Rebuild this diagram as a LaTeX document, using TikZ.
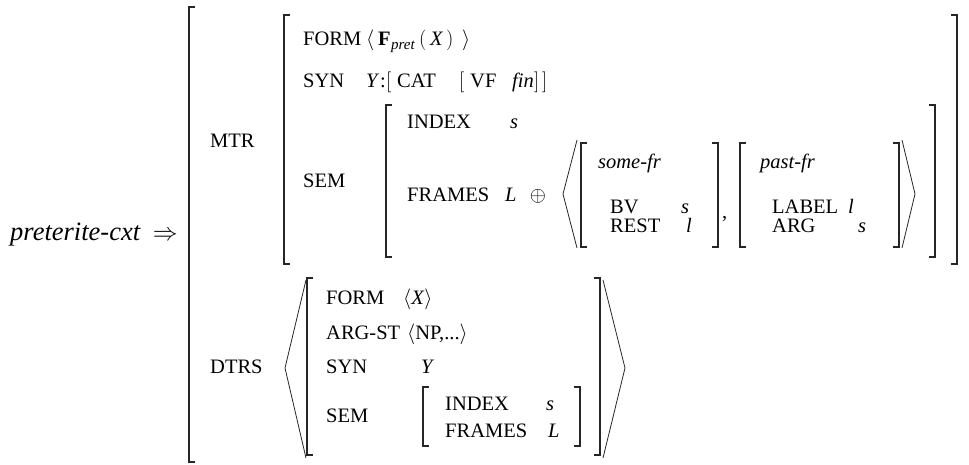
\documentclass[tikz,border=0pt]{standalone}
\usepackage{fontspec}
\setmainfont{Liberation Serif}
\newcommand{\avmfont}{\fontsize{20.5pt}{24pt}\selectfont}
\begin{document}
\begin{tikzpicture}[x=1pt,y=-1pt,
  t/.style={inner sep=0pt, anchor=base west, font=\avmfont},
  tc/.style={inner sep=0pt, anchor=base, font=\avmfont},
  sub/.style={inner sep=0pt, anchor=base west, font=\fontsize{15pt}{17pt}\selectfont\itshape},
  brk/.style={line width=1.1pt, draw=black!85, line cap=butt},
  ang/.style={line width=0.8pt, draw=black!85}]
\useasboundingbox (0,0) rectangle (969,464);

% left side
\node[t, font=\fontsize{26.5pt}{30pt}\selectfont] (cxt) at (10,240) {\textit{preterite-cxt}};
\node[t, anchor=base east, font=\fontsize{24pt}{28pt}\selectfont] (arr) at (178,240) {$\Rightarrow$};

% outer bracket
\draw[brk] (195,7) -| (189,462) -- (195,462);

% MTR
\node[t] (mtr) at (210,147) {MTR};
\draw[brk] (290,15) -| (284,264) -- (290,264);
\draw[brk] (951,15) -| (957,264) -- (951,264);

% FORM row
\node[t] (form1) at (303,45) {FORM};
\node[t] (fl) at (366,45) {$\big\langle$};
\node[t] (ff) at (378,45) {\textbf{F}};
\node[sub] (fp) at (391,49) {pret};
\node[t] (fpl) at (419,45) {$\big($};
\node[t] (fx) at (430,45) {\textit{X}};
\node[t] (fpr) at (446,45) {$\big)$};
\node[t] (fr) at (462,45) {$\big\rangle$};

% SYN row
\node[t] (syn1) at (303,87) {SYN};
\node[t] (sy) at (366,87) {\textit{Y}};
\node[t] (sc) at (380,87) {:};
\node[t] (sb1) at (386,87) {$\big[$};
\node[t] (scat) at (397,87) {CAT};
\node[t] (sb2) at (459,87) {$\big[$};
\node[t] (svf) at (470,87) {VF};
\node[t] (sfin) at (512,87) {\textit{fin}};
\node[t] (sb3) at (534,87) {$\big]$};
\node[t] (sb4) at (542,87) {$\big]$};

\node[t] (sem1) at (303,187) {SEM};

% SEM bracket
\draw[brk] (392,105) -| (386,257) -- (392,257);
\draw[brk] (929,105) -| (935,257) -- (929,257);
\node[t] (index1) at (407,128) {INDEX};
\node[t] (index1v) at (510,128) {\textit{s}};
\node[t] (frames1) at (407,201) {FRAMES};
\node[t] (frames1v) at (505,201) {\textit{L}};
\node[tc] (oplus) at (538,201) {$\oplus$};

% list
\draw[ang] (577,140) -- (563,194) -- (577,248);
\draw[ang] (902,140) -- (915,194) -- (902,248);

% some-fr
\draw[brk] (587,143) -| (581,247) -- (587,247);
\draw[brk] (712,143) -| (718,247) -- (712,247);
\node[t] (somefr) at (598,168) {\textit{some-fr}};
\node[t] (bv) at (610,213) {BV};
\node[t] (bvv) at (681,213) {\textit{s}};
\node[t] (rest) at (610,232) {REST};
\node[t] (restv) at (686,232) {\textit{l}};
\node[t] (comma) at (722,218) {,};

% past-fr
\draw[brk] (746,143) -| (740,247) -- (746,247);
\draw[brk] (893,143) -| (899,247) -- (893,247);
\node[t] (pastfr) at (760,168) {\textit{past-fr}};
\node[t] (label) at (772,213) {LABEL};
\node[t] (labelv) at (848,213) {\textit{l}};
\node[t] (arg) at (772,232) {ARG};
\node[t] (argv) at (858,232) {\textit{s}};

% DTRS
\node[t] (dtrs) at (210,373) {DTRS};
\draw[ang] (306,280) -- (285,368) -- (306,458);
\draw[ang] (603,280) -- (625,368) -- (603,458);
\draw[brk] (313,278) -| (307,455) -- (313,455);
\draw[brk] (594,278) -| (600,455) -- (594,455);

\node[t] (form2) at (326,304) {FORM};
\node[t] (form2v) at (403,304) {$\langle$\textit{X}$\rangle$};
\node[t] (argst) at (326,339) {ARG-ST};
\node[t] (argstv) at (407,339) {$\langle$NP,...$\rangle$};
\node[t] (syn2) at (326,373) {SYN};
\node[t] (syn2v) at (421,373) {\textit{Y}};
\node[t] (sem2) at (326,422) {SEM};

\draw[brk] (429,387) -| (423,446) -- (429,446);
\draw[brk] (574,387) -| (580,446) -- (574,446);
\node[t] (index2) at (445,410) {INDEX};
\node[t] (index2v) at (546,410) {\textit{s}};
\node[t] (frames2) at (445,437) {FRAMES};
\node[t] (frames2v) at (548,437) {\textit{L}};
\end{tikzpicture}
\end{document}
